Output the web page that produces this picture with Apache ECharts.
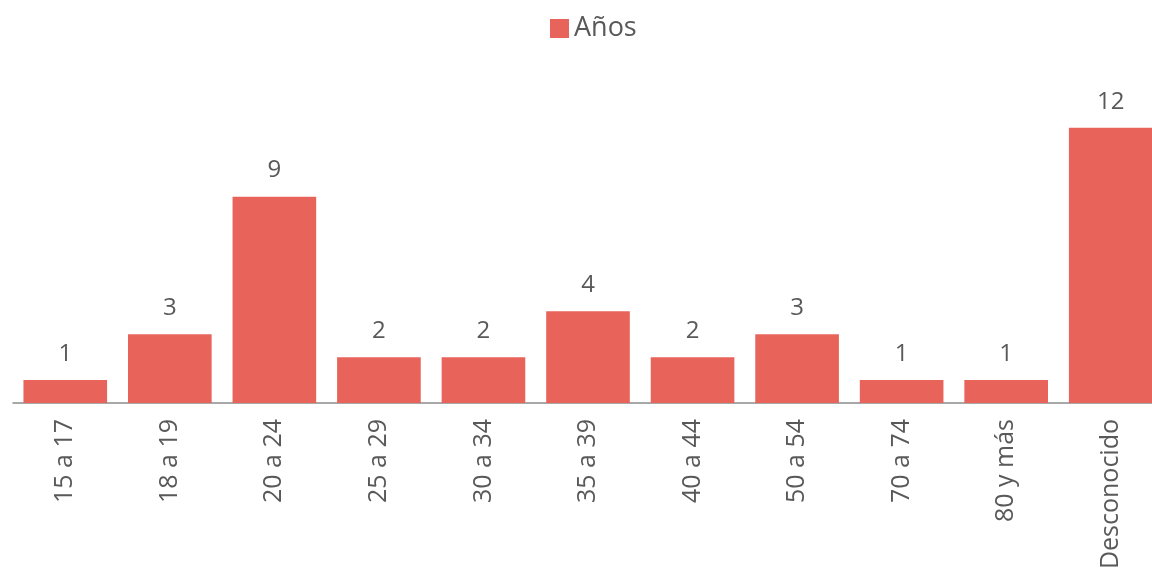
<!DOCTYPE html>
<html><head><meta charset="utf-8">
<script src="https://cdn.jsdelivr.net/npm/echarts@6/dist/echarts.min.js"></script>
<style>html,body{margin:0;padding:0;background:#fff}#c{width:1152px;height:571px}</style>
</head><body><div id="c"></div>
<script>
const categories = ["15 a 17","18 a 19","20 a 24","25 a 29","30 a 34","35 a 39","40 a 44","50 a 54","70 a 74","80 y más","Desconocido"];
const values = [1,3,9,2,2,4,2,3,1,1,12];
const seriesName = "Años";
const chart = echarts.init(document.getElementById('c'));
const font = "'Open Sans', 'Noto Sans', sans-serif";
chart.setOption({
  animation:false,
  legend:{top:10,left:545,icon:'rect',itemWidth:19,itemHeight:19,itemGap:8,
    textStyle:{fontSize:27,color:'#595959',fontFamily:font},data:[seriesName]},
  grid:{left:13,width:1150,top:82,height:321,containLabel:false,outerBoundsMode:'none'},
  xAxis:{type:'category',data:categories,
    axisLine:{lineStyle:{color:'#8c8c8c',width:1.5}},axisTick:{show:false},
    axisLabel:{rotate:90,fontSize:25,color:'#595959',fontFamily:font,margin:16,interval:0}},
  yAxis:{type:'value',min:0,max:14,show:false,splitLine:{show:false}},
  series:[{name:seriesName,type:'bar',data:values,barCategoryGap:'20%',
    itemStyle:{color:'#E8635A'},
    label:{show:true,position:'top',distance:14,fontSize:24,color:'#595959',fontFamily:font}}]
});
</script></body></html>
